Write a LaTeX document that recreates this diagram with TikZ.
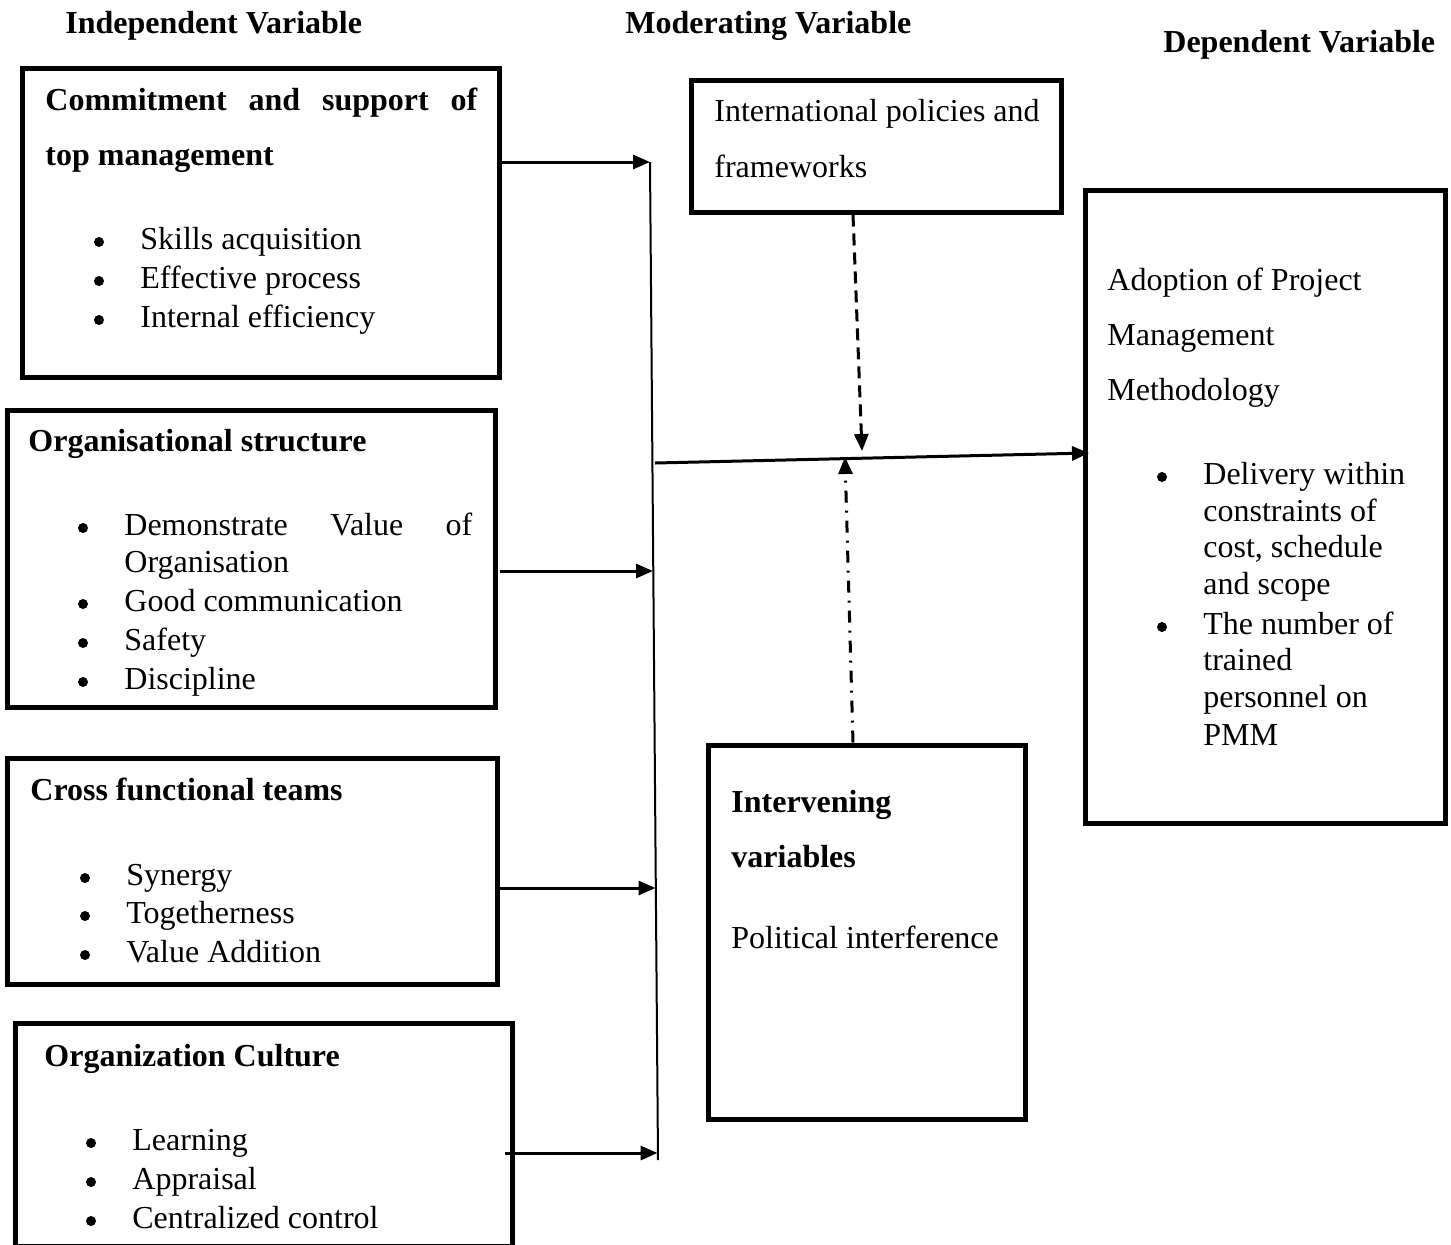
\documentclass[tikz,border=0pt]{standalone}
\usepackage{fontspec}
\setmainfont{Liberation Serif}
\usetikzlibrary{fit,calc,arrows.meta}
\newcommand{\fsz}{\fontsize{16pt}{19.5pt}\selectfont}
\tikzset{
  boxst/.style={draw, line width=2.5pt, inner sep=0pt},
  txt/.style={anchor=base west, inner sep=0pt, font=\fsz},
  btxt/.style={anchor=base west, inner sep=0pt, font=\fsz\bfseries},
  bul/.style={circle, fill, inner sep=0pt, minimum size=5pt, yshift=3.5pt},
  arr/.style={line width=1.5pt, -{Triangle[length=8.5pt,width=7pt]}},
  vline/.style={line width=1pt},
  dsh/.style={arr, dash pattern=on 6pt off 3.5pt},
  dshdot/.style={arr, dash pattern=on 6pt off 4pt on 1pt off 4pt},
}
\begin{document}
\begin{tikzpicture}[x=0.5pt,y=-0.5pt]
\useasboundingbox (0,0) rectangle (1451,1244);
\clip (0,0) rectangle (1451,1244);
\fill[white] (0,0) rectangle (1451,1244);

% titles
\node[btxt] (t1) at (65,33) {Independent Variable};
\node[btxt] (t2) at (625,33) {Moderating Variable};
\node[btxt] (t3) at (1163,52) {Dependent Variable};

% box 1
\node[boxst, fit={(22,68) (499,377)}] (b1) {};
\node[btxt] (b1a) at (45,110) {\makebox[216pt][s]{Commitment and support of}};
\node[btxt] (b1b) at (45,165) {top management};
\node[bul] (b1p1) at (99,249) {};
\node[bul] (b1p2) at (99,288) {};
\node[bul] (b1p3) at (99,327) {};
\node[txt] (b1c) at (140,249) {Skills acquisition};
\node[txt] (b1d) at (140,288) {Effective process};
\node[txt] (b1e) at (140,327) {Internal efficiency};

% box 2
\node[boxst, fit={(7,410) (495,707)}] (b2) {};
\node[btxt] (b2a) at (28,451) {Organisational structure};
\node[bul] (b2p1) at (83,535) {};
\node[bul] (b2p2) at (83,611) {};
\node[bul] (b2p3) at (83,650) {};
\node[bul] (b2p4) at (83,689) {};
\node[txt] (b2b) at (124,535) {\makebox[174pt][s]{Demonstrate Value of}};
\node[txt] (b2c) at (124,572) {Organisation};
\node[txt] (b2d) at (124,611) {Good communication};
\node[txt] (b2e) at (124,650) {Safety};
\node[txt] (b2f) at (124,689) {Discipline};

% box 3
\node[boxst, fit={(7,758) (497,984)}] (b3) {};
\node[btxt] (b3a) at (30,800) {Cross functional teams};
\node[bul] (b3p1) at (85,885) {};
\node[bul] (b3p2) at (85,923) {};
\node[bul] (b3p3) at (85,962) {};
\node[txt] (b3b) at (126,885) {Synergy};
\node[txt] (b3c) at (126,923) {Togetherness};
\node[txt] (b3d) at (126,962) {Value Addition};

% box 4
\node[boxst, fit={(15,1023) (512,1246)}] (b4) {};
\node[btxt] (b4a) at (44,1066) {Organization Culture};
\node[bul] (b4p1) at (91,1150) {};
\node[bul] (b4p2) at (91,1189) {};
\node[bul] (b4p3) at (91,1228) {};
\node[txt] (b4b) at (132,1150) {Learning};
\node[txt] (b4c) at (132,1189) {Appraisal};
\node[txt] (b4d) at (132,1228) {Centralized control};

% box 5 (moderating)
\node[boxst, fit={(691,80) (1061,212)}] (b5) {};
\node[txt] (b5a) at (714,121) {International policies and};
\node[txt] (b5b) at (714,177) {frameworks};

% box 6 (intervening)
\node[boxst, fit={(708,745) (1025,1119)}] (b6) {};
\node[btxt] (b6a) at (731,812) {Intervening};
\node[btxt] (b6b) at (731,867) {variables};
\node[txt] (b6c) at (731,948) {Political interference};

% box 7 (dependent)
\node[boxst, fit={(1085,190) (1445,823)}] (b7) {};
\node[txt] (b7a) at (1107,290) {Adoption of Project};
\node[txt] (b7b) at (1107,345) {Management};
\node[txt] (b7c) at (1107,400) {Methodology};
\node[bul] (b7p1) at (1162,484) {};
\node[bul] (b7p2) at (1162,634) {};
\node[txt] (b7d) at (1203,484) {Delivery within};
\node[txt] (b7e) at (1203,521) {constraints of};
\node[txt] (b7f) at (1203,557) {cost, schedule};
\node[txt] (b7g) at (1203,594) {and scope};
\node[txt] (b7h) at (1203,634) {The number of};
\node[txt] (b7i) at (1203,670) {trained};
\node[txt] (b7j) at (1203,707) {personnel on};
\node[txt] (b7k) at (1203,745) {PMM};

% junction coordinates
\coordinate (j1) at (650,162);
\coordinate (j2) at (653,571);
\coordinate (j3) at (655.5,888);
\coordinate (j4) at (657.5,1153);
\coordinate (jb) at (658,1160);
\coordinate (h0) at (655,463);
\coordinate (h1) at (1089,453);
\coordinate (d1) at (862,451);
\coordinate (u1) at (845,457);

% connectors
\draw[vline] (j1) -- (jb);
\draw[arr] (b1.east |- j1) ++(-4,0) -- (j1);
\draw[arr] (b2.east |- j2) ++(2,0) -- (j2);
\draw[arr] (b3.east |- j3) -- (j3);
\draw[arr] (b4.east |- j4) ++(-10,0) -- (j4);
\draw[arr] (h0) -- (h1);
\draw[dsh] ($(b5.south)+(-23,0)$) -- (d1);
\draw[dshdot] ($(b6.north)+(-13.5,0)$) -- (u1);
\end{tikzpicture}
\end{document}
